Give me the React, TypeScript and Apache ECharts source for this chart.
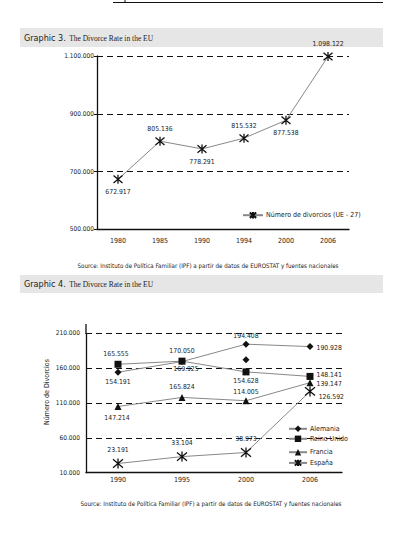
import React, { useEffect, useRef } from "react";
import * as echarts from "echarts";

const years1 = ["1980", "1985", "1990", "1994", "2000", "2006"];
const divorciosUE = [672917, 805136, 778291, 815532, 877538, 1098122];
const divorciosUELabelPos = ["bottom", "top", "bottom", "top", "bottom", "top"];

const years2 = ["1990", "1995", "2000", "2006"];
const alemania = [154191, 169425, 194408, 190928];
const alemaniaLabels = ["154.191", "169.925", "194.408", "190.928"];
const alemaniaExtra = [null, null, 172000, null];
const reinoUnido = [165555, 170050, 154628, 148141];
const reinoUnidoLabels = ["165.555", "170.050", "154.628", "148.141"];
const francia = [105000, 118000, 113300, 139147];
const franciaLabels = ["147.214", "165.824", "114.005", "139.147"];
const espana = [23191, 33104, 38973, 126592];
const espanaLabels = ["23.191", "33.104", "38.973", "126.592"];

const NARROW = "'Liberation Sans Narrow', 'DejaVu Sans Condensed', 'Liberation Sans', sans-serif";
const SERIF = "'Liberation Serif', 'DejaVu Serif', serif";
const ASTER = "path://M0,0L10,10M10,0L0,10M5,-1L5,11";

const fmt = (v: number) => String(v).replace(/\B(?=(\d{3})+(?!\d))/g, ".");

export default function App() {
  const ref = useRef<HTMLDivElement>(null);
  useEffect(() => {
    const chart = echarts.init(ref.current!, null, { renderer: "svg" });
    const lbl = { fontSize: 6.8, fontFamily: NARROW, color: "#222" };
    const mkData = (vals: (number | null)[], labels: string[], pos: any[], offs: any[]) =>
      vals.map((v, i) => ({
        value: v,
        label: { show: true, position: pos[i], offset: offs[i], distance: 3, formatter: labels[i], ...lbl },
      }));
    const lineStyle = { color: "#888", width: 1 };
    const legendBase = {
      orient: "vertical",
      selectedMode: false,
      padding: 0,
      itemGap: 0,
      itemWidth: 18,
      itemHeight: 8,
      textStyle: { fontSize: 7, fontFamily: NARROW, color: "#222", padding: [0, 0, 0, -2] },
    };
    const titleRich = {
      a: { fontSize: 9, fontFamily: NARROW, fill: "#222", fontWeight: 500 },
      b: { fontSize: 7.5, fontFamily: SERIF, fill: "#222" },
    };
    chart.setOption({
      animation: false,
      grid: [
        { left: 97, right: 48, top: 56, bottom: 305.7 },
        { left: 86, right: 55, top: 333.3, bottom: 62.3 },
      ],
      xAxis: [
        {
          gridIndex: 0, type: "category", data: years1, boundaryGap: true,
          axisLine: { lineStyle: { color: "#111", width: 1.3 } },
          axisTick: { show: false },
          axisLabel: { fontSize: 7, fontFamily: NARROW, color: "#222", margin: 8 },
        },
        {
          gridIndex: 1, type: "category", data: years2, boundaryGap: true,
          axisLine: { lineStyle: { color: "#111", width: 1.3 } },
          axisTick: { show: false },
          axisLabel: { fontSize: 7, fontFamily: NARROW, color: "#222", margin: 4 },
        },
      ],
      yAxis: [
        {
          gridIndex: 0, type: "value", min: 500000, max: 1100000, interval: 200000,
          axisLine: { show: true, lineStyle: { color: "#111", width: 1.3 } },
          axisTick: { show: true, length: 3, lineStyle: { color: "#111" } },
          axisLabel: { fontSize: 6.5, fontFamily: NARROW, color: "#222", margin: 3, formatter: (v: number) => fmt(v) },
          splitLine: { show: true, lineStyle: { color: "#111", type: [6, 4], width: 1 } },
        },
        {
          gridIndex: 1, type: "value", min: 10000, max: 210000, interval: 50000,
          axisLine: { show: true, lineStyle: { color: "#111", width: 1.3 } },
          axisTick: { show: false },
          axisLabel: { fontSize: 6.5, fontFamily: NARROW, color: "#222", margin: 6, formatter: (v: number) => fmt(v) },
          splitLine: { show: true, lineStyle: { color: "#111", type: [6, 4], width: 1 } },
        },
      ],
      legend: [
        { ...legendBase, data: ["Número de divorcios (UE - 27)"], left: 242, top: 211, itemWidth: 20 },
        { ...legendBase, data: ["Alemania"], left: 288, top: 425.3 },
        { ...legendBase, data: ["Reino Unido"], left: 288, top: 435.3 },
        { ...legendBase, data: ["Francia"], left: 288, top: 448.7 },
        { ...legendBase, data: ["España"], left: 288, top: 458.7 },
      ],
      series: [
        {
          name: "Número de divorcios (UE - 27)", type: "line", xAxisIndex: 0, yAxisIndex: 0,
          data: divorciosUE.map((v, i) => ({
            value: v,
            label: { show: true, position: divorciosUELabelPos[i], distance: 4, formatter: fmt(v), ...lbl },
          })),
          symbol: ASTER, symbolSize: 9,
          itemStyle: { color: "#111", borderColor: "#111", borderWidth: 1.3 },
          lineStyle,
        },
        {
          name: "Alemania", type: "line", xAxisIndex: 1, yAxisIndex: 1,
          data: mkData(alemania, alemaniaLabels, ["bottom", "bottom", "top", "right"], [[0, 0], [4, -3], [0, 2], [0, 1]]),
          symbol: "diamond", symbolSize: 7,
          itemStyle: { color: "#111" }, lineStyle,
        },
        {
          name: "Alemania extra", type: "line", xAxisIndex: 1, yAxisIndex: 1,
          data: alemaniaExtra, symbol: "diamond", symbolSize: 7, showSymbol: true,
          itemStyle: { color: "#111" }, lineStyle: { width: 0 }, label: { show: false },
        },
        {
          name: "Reino Unido", type: "line", xAxisIndex: 1, yAxisIndex: 1,
          data: mkData(reinoUnido, reinoUnidoLabels, ["top", "top", "bottom", "right"], [[-2, 0], [0, 0], [0, -1], [0, -1]]),
          symbol: "rect", symbolSize: 7,
          itemStyle: { color: "#111" }, lineStyle,
        },
        {
          name: "Francia", type: "line", xAxisIndex: 1, yAxisIndex: 1,
          data: mkData(francia, franciaLabels, ["bottom", "top", "top", "right"], [[-1, 2], [0, 0], [0, 1], [0, 1]]),
          symbol: "triangle", symbolSize: 7,
          itemStyle: { color: "#111" }, lineStyle,
        },
        {
          name: "España", type: "line", xAxisIndex: 1, yAxisIndex: 1,
          data: mkData(espana, espanaLabels, ["top", "top", "top", "right"], [[0, -1], [0, -1], [0, -1], [0, 6]]),
          symbol: ASTER, symbolSize: 10,
          itemStyle: { color: "#111", borderColor: "#111", borderWidth: 1.3 }, lineStyle,
        },
      ],
      graphic: [
        { type: "line", shape: { x1: 113, y1: 2.5, x2: 383, y2: 2.5 }, style: { stroke: "#111", lineWidth: 1 } },
        { type: "line", shape: { x1: 125, y1: 0, x2: 125, y2: 3 }, style: { stroke: "#111", lineWidth: 1 } },
        { type: "rect", shape: { x: 20, y: 28, width: 363, height: 19 }, style: { fill: "#e6e6e6" } },
        {
          type: "text", x: 24, y: 38,
          style: { text: "{a|Graphic 3.} {b|The Divorce Rate in the EU}", verticalAlign: "middle", rich: titleRich },
        },
        { type: "rect", shape: { x: 20, y: 275, width: 363, height: 18 }, style: { fill: "#e6e6e6" } },
        {
          type: "text", x: 24, y: 284,
          style: { text: "{a|Graphic 4.} {b|The Divorce Rate in the EU}", verticalAlign: "middle", rich: titleRich },
        },
        {
          type: "text", x: 208, y: 265,
          style: {
            text: "Source: Instituto de Política Familiar (IPF) a partir de datos de EUROSTAT y fuentes nacionales",
            align: "center", verticalAlign: "middle", fontSize: 6.2, fontFamily: NARROW, fill: "#222",
          },
        },
        {
          type: "text", x: 211, y: 503,
          style: {
            text: "Source: Instituto de Política Familiar (IPF) a partir de datos de EUROSTAT y fuentes nacionales",
            align: "center", verticalAlign: "middle", fontSize: 6.2, fontFamily: NARROW, fill: "#222",
          },
        },
        {
          type: "text", x: 47, y: 392, rotation: Math.PI / 2,
          style: {
            text: "Número de Divorcios", align: "center", verticalAlign: "middle",
            fontSize: 7, fontFamily: NARROW, fill: "#222",
          },
        },
        { type: "line", shape: { x1: 86, y1: 324, x2: 86, y2: 334 }, style: { stroke: "#111", lineWidth: 1.3 } },
      ],
    });
    return () => chart.dispose();
  }, []);
  return (
    <div
      ref={ref}
      style={{ position: "fixed", left: 0, top: 0, width: 397, height: 535, background: "#fff" }}
    />
  );
}
